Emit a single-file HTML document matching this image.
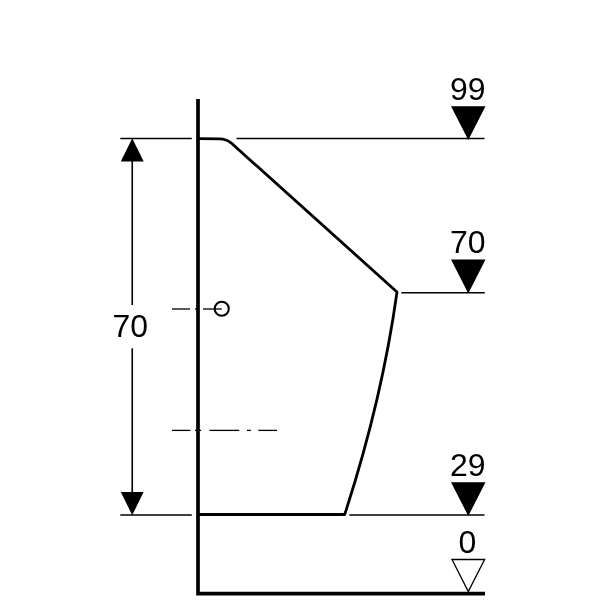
<!DOCTYPE html>
<html>
<head>
<meta charset="utf-8">
<title>Dimension drawing</title>
<style>
  html, body { margin: 0; padding: 0; background: #ffffff; }
  body { width: 600px; height: 600px; overflow: hidden; }
  svg { display: block; will-change: transform; filter: grayscale(1); }
  text { font-family: "Liberation Sans", sans-serif; font-size: 32px; fill: #000; }
</style>
</head>
<body>
<svg width="600" height="600" viewBox="0 0 600 600">
  <rect x="0" y="0" width="600" height="600" fill="#ffffff"/>

  <!-- thin extension / level lines -->
  <g stroke="#000" stroke-width="1.5" fill="none">
    <line x1="120.3" y1="138.5" x2="191.8" y2="138.5"/>
    <line x1="236.5" y1="138.5" x2="484.5" y2="138.5"/>
    <line x1="401.3" y1="292.8" x2="484.8" y2="292.8"/>
    <line x1="120.3" y1="515" x2="191.8" y2="515"/>
    <line x1="349.3" y1="515" x2="484.5" y2="515"/>
  </g>
  <!-- centre lines -->
  <g stroke="#000" stroke-width="1.3" fill="none">
    <line x1="172" y1="309" x2="190" y2="309"/>
    <line x1="195" y1="309" x2="198" y2="309"/>
    <line x1="203" y1="309" x2="221.8" y2="309"/>
    <line x1="172" y1="430.4" x2="190.3" y2="430.4"/>
    <line x1="195" y1="430.4" x2="201.2" y2="430.4"/>
    <line x1="209.4" y1="430.4" x2="239.3" y2="430.4"/>
    <line x1="247" y1="430.4" x2="250.8" y2="430.4"/>
    <line x1="258.3" y1="430.4" x2="277" y2="430.4"/>
  </g>
  <!-- dimension line -->
  <g stroke="#000" stroke-width="1.6" fill="none">
    <line x1="132.25" y1="150" x2="132.25" y2="305"/>
    <line x1="132.25" y1="348.3" x2="132.25" y2="500"/>
  </g>
  <circle cx="221.75" cy="308.8" r="7.05" fill="none" stroke="#000" stroke-width="2"/>

  <!-- dimension arrowheads -->
  <polygon points="132.25,138.3 120.8,161.5 143.7,161.5" fill="#000"/>
  <polygon points="132.2,515.2 120.8,492 143.6,492" fill="#000"/>

  <!-- urinal outline -->
  <path d="M198,138.7 L219.5,138.9 Q226.3,139.1 231,142.8 L397,292 Q382,400 344.7,514.5 L198,514.5"
        fill="none" stroke="#000" stroke-width="2.8" stroke-linejoin="round"/>

  <!-- wall and floor -->
  <path d="M198,99 L198,593.7 L485,593.7" fill="none" stroke="#000" stroke-width="3.7" stroke-linejoin="miter"/>

  <!-- level markers -->
  <polygon points="451,106.3 485.5,106.3 468.3,140" fill="#000"/>
  <polygon points="451,259.5 485.5,259.5 468.3,293.4" fill="#000"/>
  <polygon points="451,482.3 485.5,482.3 468.3,516" fill="#000"/>
  <polygon points="452,559.5 484.6,559.5 468.3,591.5" fill="#fff" stroke="#000" stroke-width="1.35"/>

  <!-- labels -->
  <text x="467.7" y="100.3" text-anchor="middle">99</text>
  <text x="467.7" y="253.1" text-anchor="middle">70</text>
  <text x="467.7" y="476.1" text-anchor="middle">29</text>
  <text x="467.5" y="553" text-anchor="middle">0</text>
  <text x="130.2" y="337.2" text-anchor="middle">70</text>
</svg>
</body>
</html>
